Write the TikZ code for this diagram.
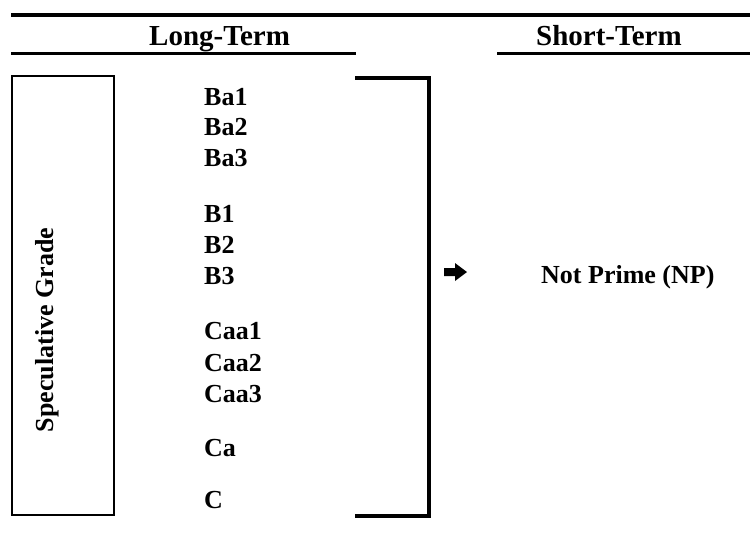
\documentclass[tikz,border=0pt]{standalone}
\usepackage{fontspec}
\setmainfont{Liberation Serif}
\begin{document}
\begin{tikzpicture}[x=1pt,y=-1pt,
  item/.style={anchor=base west,inner sep=0pt,font=\bfseries\fontsize{26}{30}\selectfont},
  head/.style={anchor=base west,inner sep=0pt,font=\bfseries\fontsize{29}{33}\selectfont},
  rule/.style={line width=3.5pt},
  brk/.style={line width=4pt},
  box/.style={draw,line width=2pt}]
\useasboundingbox (0,0) rectangle (750,533);
% top and header rules
\coordinate (t1) at (11,15); \coordinate (t2) at (750,15);
\draw[line width=4pt] (t1) -- (t2);
\coordinate (u1) at (11,53.5); \coordinate (u2) at (356,53.5);
\coordinate (u3) at (497,53.5); \coordinate (u4) at (750,53.5);
\draw[rule] (u1) -- (u2);
\draw[rule] (u3) -- (u4);
\node[head] (lt) at (149,45) {Long-Term};
\node[head] (st) at (536,45) {Short-Term};
% speculative grade box
\node[box,minimum width=102pt,minimum height=439pt,inner sep=0pt] (sg) at (63,295.5) {};
\node[anchor=base,inner sep=0pt,rotate=90,font=\bfseries\fontsize{26}{30}\selectfont] (sgt) at (53,330) {Speculative Grade};
% ratings
\node[item] (ba1) at (204,105) {Ba1};
\node[item] (ba2) at (204,135) {Ba2};
\node[item] (ba3) at (204,166) {Ba3};
\node[item] (b1) at (204,222) {B1};
\node[item] (b2) at (204,253) {B2};
\node[item] (b3) at (204,284) {B3};
\node[item] (caa1) at (204,339) {Caa1};
\node[item] (caa2) at (204,371) {Caa2};
\node[item] (caa3) at (204,402) {Caa3};
\node[item] (ca) at (204,456) {Ca};
\node[item] (c) at (204,508) {C};
% bracket
\coordinate (k1) at (355,77.5); \coordinate (k2) at (429,77.5);
\coordinate (k3) at (429,515.5); \coordinate (k4) at (355,515.5);
\draw[brk] (k1) -- (k2) -- (k3) -- (k4);
% arrow
\fill (444,268) -- (455,268) -- (455,263) -- (467,272) -- (455,281) -- (455,276) -- (444,276) -- cycle;
\node[item] (np) at (541,283) {Not Prime (NP)};
\end{tikzpicture}
\end{document}
